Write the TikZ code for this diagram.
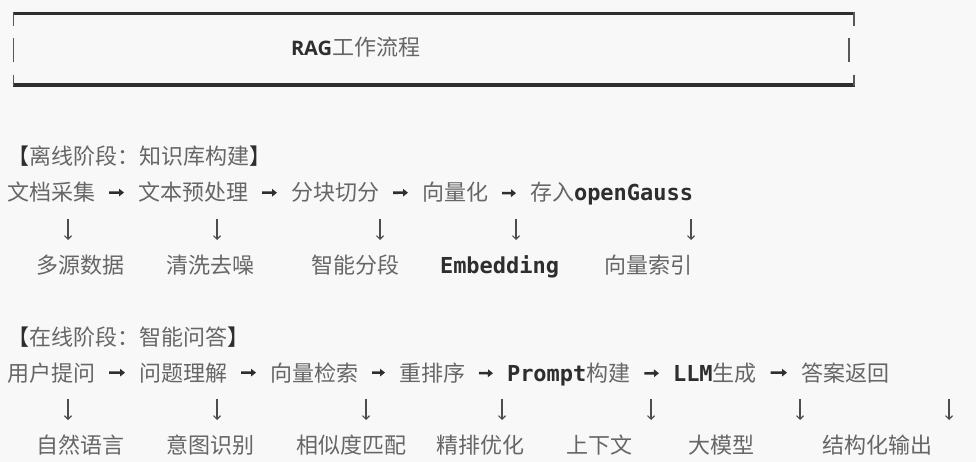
\documentclass[tikz,border=0pt]{standalone}
\usepackage{fontspec}
\usepackage{tikz}
\usetikzlibrary{arrows.meta}
\usetikzlibrary{positioning}
\newfontfamily\cjk{Noto Sans CJK SC}
\newfontfamily\monofnt{DejaVu Sans Mono}
\newfontfamily\titlefnt{Open Sans}
\definecolor{bg}{HTML}{F8F8F8}
\definecolor{cjkgray}{HTML}{666666}
\definecolor{ink}{HTML}{2E2E2E}
\newcommand{\mo}[1]{{\monofnt\bfseries\color{ink}#1}}
\newcommand{\brk}[1]{{\color{ink}#1}}

\begin{document}
\begin{tikzpicture}[x=1pt,y=-1pt,
	txt/.style={anchor=base west,inner sep=0pt,outer sep=0pt,
		font=\cjk\fontsize{22}{26}\selectfont,text=cjkgray},
	rarr/.style={draw=ink,line width=2.6pt,shorten <=14pt,shorten >=14pt,
		-{Triangle[length=5pt,width=7.5pt]}},
	darr/.style={draw=ink!85,line width=1.1pt,
		-{Straight Barb[length=3.5pt,width=7pt]}}]
	\fill[bg] (0,0) rectangle (976,462);
	\useasboundingbox (0,0) rectangle (976,462);
	% title box
	\draw[ink,line width=3.2pt] (12.5,13.5)--(855,13.5);
	\draw[ink,line width=3.2pt] (12.5,85)--(855,85);
	\draw[ink!80,line width=1.8pt] (13.5,12)--(13.5,26) (13.5,38)--(13.5,62) (13.5,75)--(13.5,86.5);
	\draw[ink!80,line width=1.8pt] (854,12)--(854,26) (849,38)--(849,62) (854,75)--(854,86.5);
	\node[txt] (title) at (291,56) {{\titlefnt\bfseries\color{ink}\fontsize{20}{24}\selectfont RAG}工作流程};
	% offline
	\node[txt] (h1) at (7,165) {\brk{【}离线阶段：知识库构建\brk{】}};
	\node[txt] (a1) at (7,201) {文档采集};
	\node[txt] (a2) at (138,201) {文本预处理};
	\node[txt] (a3) at (291,201) {分块切分};
	\node[txt] (a4) at (422,201) {向量化};
	\node[txt] (a5) at (530,201) {存入\mo{openGauss}};
	\draw[rarr] (a1) -- (a2);
	\draw[rarr] (a2) -- (a3);
	\draw[rarr] (a3) -- (a4);
	\draw[rarr] (a4) -- (a5);
	\coordinate (d1) at (68,219);
	\coordinate (d2) at (217,219);
	\coordinate (d3) at (380,219);
	\coordinate (d4) at (516,219);
	\coordinate (d5) at (691,219);
	\foreach \d in {d1,d2,d3,d4,d5}
		\draw[darr] (\d) -- ++(0,21);
	\node[txt] (b1) at (36,273) {多源数据};
	\node[txt] (b2) at (166,273) {清洗去噪};
	\node[txt] (b3) at (311,273) {智能分段};
	\node[txt] (b4) at (440,273) {\mo{Embedding}};
	\node[txt] (b5) at (604,273) {向量索引};
	% online
	\node[txt] (h2) at (7,345) {\brk{【}在线阶段：智能问答\brk{】}};
	\node[txt] (c1) at (7,381) {用户提问};
	\node[txt] (c2) at (139,381) {问题理解};
	\node[txt] (c3) at (270,381) {向量检索};
	\node[txt] (c4) at (399,381) {重排序};
	\node[txt] (c5) at (507,381) {\mo{Prompt}构建};
	\node[txt] (c6) at (673,381) {\mo{LLM}生成};
	\node[txt] (c7) at (801,381) {答案返回};
	\foreach \i/\j in {c1/c2,c2/c3,c3/c4,c4/c5,c5/c6,c6/c7}
		\draw[rarr] (\i) -- (\j);
	\coordinate (e1) at (68,399);
	\coordinate (e2) at (217,399);
	\coordinate (e3) at (366,399);
	\coordinate (e4) at (502,399);
	\coordinate (e5) at (651,399);
	\coordinate (e6) at (800,399);
	\coordinate (e7) at (949,399);
	\foreach \d in {e1,e2,e3,e4,e5,e6,e7}
		\draw[darr] (\d) -- ++(0,21);
	\node[txt] (f1) at (36,453) {自然语言};
	\node[txt] (f2) at (166,453) {意图识别};
	\node[txt] (f3) at (296,453) {相似度匹配};
	\node[txt] (f4) at (436,453) {精排优化};
	\node[txt] (f5) at (566,453) {上下文};
	\node[txt] (f6) at (688,453) {大模型};
	\node[txt] (f7) at (822,453) {结构化输出};
\end{tikzpicture}
\end{document}
